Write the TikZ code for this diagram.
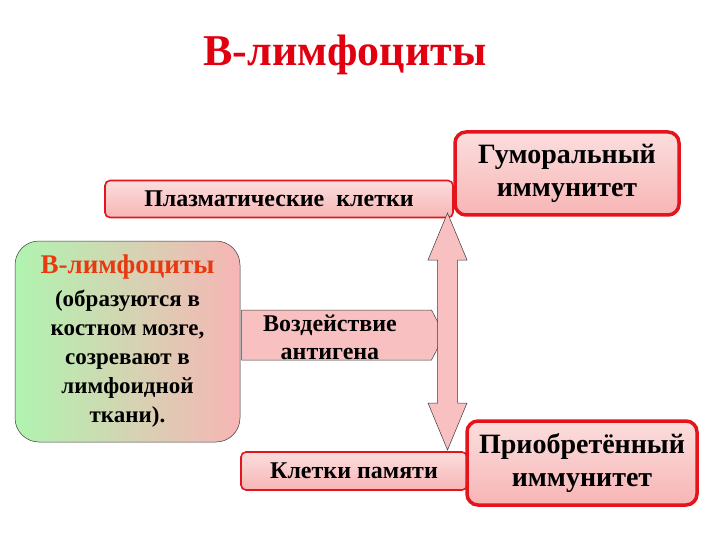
\documentclass[tikz,border=0pt]{standalone}
\usepackage{fontspec}
\setmainfont{Liberation Serif}
\usetikzlibrary{positioning,calc,shapes.symbols}
\definecolor{lyred}{HTML}{E4141C}
\definecolor{lytitle}{HTML}{E00010}
\definecolor{lyhead}{HTML}{E83A10}
\definecolor{lypink}{HTML}{F7B5B5}
\definecolor{lygreen}{HTML}{B0F4B0}
\definecolor{lyedge}{HTML}{3A3A3A}
\tikzset{
  cellbox/.style ={draw=lyred, line width=1.6pt, rounded corners=5pt, inner sep=0pt,
                   top color=lypink!45, middle color=white, bottom color=lypink,
                   font=\bfseries\fontsize{24}{28}\selectfont},
  immbox/.style  ={cellbox, line width=3.5pt, rounded corners=11pt, align=center,
                   font=\bfseries\fontsize{28}{33}\selectfont},
  origin/.style  ={draw=lyedge, line width=0.5pt, rounded corners=24pt, inner sep=0pt,
                   left color=lygreen, right color=lypink, align=center,
                   font=\bfseries\fontsize{23}{29}\selectfont},
  antigen/.style ={signal, signal to=east, signal pointer angle=125, draw=lyedge,
                   line width=0.5pt, fill=lypink!85, inner sep=0pt},
  antext/.style  ={align=center, inner sep=0pt, font=\bfseries\fontsize{24}{28}\selectfont},
  blockarrow/.style={draw=lyedge, line width=0.5pt, fill=lypink!85},
}
\begin{document}
\begin{tikzpicture}[x=1pt,y=-1pt]
  \useasboundingbox[fill=white] (0,0) rectangle (720,540);
  \node[text=lytitle, font=\bfseries\fontsize{44}{48}\selectfont] (title) at (345,55) {В-лимфоциты};
  % left source box
  \node[origin, minimum width=225, minimum height=201] (bcell) at (127.5,341.5)
    {{\color{lyhead}\fontsize{27}{29}\selectfont В-лимфоциты}\\[4pt]
     (образуются в\\костном мозге,\\созревают в\\лимфоидной\\ткани).};
  \node[antigen, minimum width=203, minimum height=50] (antg) at (336.5,335) {};
  \node[antext] (antgtxt) at (330,337) {Воздействие\\антигена};
  % result boxes
  \node[cellbox, minimum width=348, minimum height=37] (plasma) at (279,199) {Плазматические\ \ клетки};
  \node[cellbox, minimum width=226, minimum height=38] (memory) at (354,471) {Клетки памяти};
  \node[immbox, minimum width=224, minimum height=83] (humor) at (567,173.5) {Гуморальный\\иммунитет};
  \node[immbox, minimum width=230, minimum height=84] (acquir) at (582,463) {Приобретённый\\иммунитет};
  % two-headed block arrow
  \coordinate (up) at (447.5,213);
  \coordinate (dn) at (447.5,450);
  \draw[blockarrow] (up) -- ++(19.5,47) -- ++(-9.5,0) -- ($(dn)+(10,-47)$) -- ++(9.5,0)
    -- (dn) -- ++(-19.5,-47) -- ++(9.5,0) -- ($(up)+(-10,47)$) -- ++(-9.5,0) -- cycle;
\end{tikzpicture}
\end{document}
